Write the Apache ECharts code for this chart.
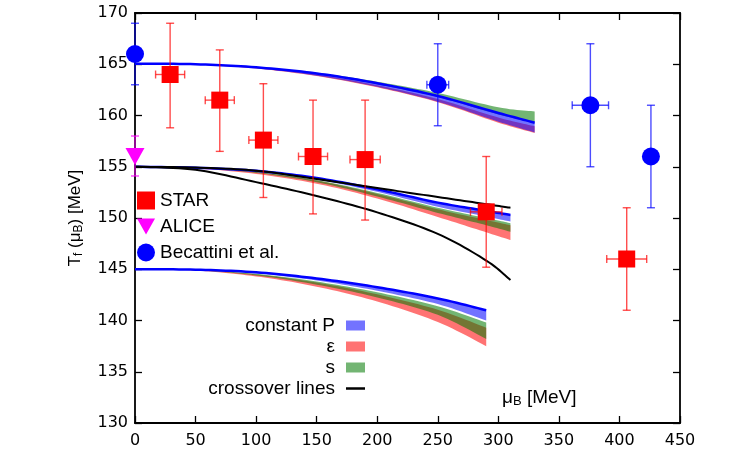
<!DOCTYPE html>
<html>
<head>
<meta charset="utf-8">
<script src="https://cdn.jsdelivr.net/npm/echarts@6/dist/echarts.min.js"></script>
<style>
  html, body { margin: 0; background: #fff; }
  #chart { width: 750px; height: 450px; }
</style>
</head>
<body>
<div id="chart"></div>
<script>
// axis ranges
var xMin = 0, xMax = 450, xStep = 50;
var yMin = 130, yMax = 170, yStep = 5;

// STAR freeze-out points
var starMu = [29, 70, 106, 147, 190, 290, 406];
var starT = [164.0, 161.5, 157.6, 156.0, 155.7, 150.6, 146.0];
var starMuErr = [12, 12, 12, 12, 12.5, 13, 16.5];
var starTLow = [158.8, 156.5, 152.0, 150.4, 149.8, 145.2, 141.0];
var starTHigh = [169.0, 166.4, 163.1, 161.5, 161.5, 156.0, 151.0];

// ALICE
var aliceMu = [0];
var aliceT = [156.0];
var aliceTLow = [154.1];
var aliceTHigh = [158.0];

// Becattini et al.
var becMu = [0, 250, 376, 426];
var becT = [166.0, 163.0, 161.0, 156.0];
var becMuErr = [0, 9, 15, 0];
var becTLow = [163.0, 159.0, 155.0, 151.0];
var becTHigh = [169.0, 167.0, 167.0, 161.0];

// upper family of curves (T0 = 165)
var muUp = [0, 50, 100, 150, 200, 250, 300, 330];
var upPHigh = [165.05, 165.0, 164.7, 164.1, 163.15, 161.9, 160.25, 159.3];
var upPLow = [165.05, 164.97, 164.6, 163.88, 162.8, 161.35, 159.4, 158.35];
var upSHigh = [165.05, 165.01, 164.74, 164.18, 163.3, 162.2, 160.8, 160.4];
var upSLow = [165.05, 164.99, 164.68, 164.05, 163.05, 161.8, 160.1, 159.3];
var upEHigh = [165.05, 164.99, 164.66, 164.0, 162.95, 161.6, 159.8, 158.95];
var upELow = [165.05, 164.97, 164.58, 163.85, 162.75, 161.3, 159.3, 158.3];

// middle family (T0 = 155)
var muMid = [0, 50, 100, 150, 200, 250, 290, 310];
var midPHigh = [155.0, 154.9, 154.6, 153.9, 152.8, 151.5, 150.7, 150.3];
var midPLow = [155.0, 154.88, 154.53, 153.75, 152.55, 151.1, 150.15, 149.65];
var midSHigh = [155.0, 154.88, 154.5, 153.7, 152.45, 151.0, 150.0, 149.5];
var midSLow = [155.0, 154.85, 154.4, 153.5, 152.1, 150.5, 149.3, 148.65];
var midEHigh = [155.0, 154.87, 154.48, 153.65, 152.35, 150.85, 149.8, 149.3];
var midELow = [155.0, 154.83, 154.3, 153.35, 151.9, 150.1, 148.6, 147.85];

// lower family (T0 = 145)
var muLow = [0, 50, 100, 150, 200, 250, 290];
var lowPHigh = [145.0, 144.96, 144.7, 144.1, 143.25, 142.15, 141.0];
var lowPLow = [145.0, 144.94, 144.6, 143.9, 142.9, 141.6, 140.0];
var lowSHigh = [145.0, 144.93, 144.55, 143.8, 142.75, 141.4, 139.8];
var lowSLow = [145.0, 144.9, 144.4, 143.5, 142.25, 140.55, 138.2];
var lowEHigh = [145.0, 144.92, 144.5, 143.7, 142.55, 141.05, 139.3];
var lowELow = [145.0, 144.88, 144.3, 143.3, 141.85, 139.85, 137.5];

// crossover lines
var muCross = [0, 50, 100, 150, 200, 250, 290, 310];
var crossA = [155.0, 154.92, 154.62, 153.8, 152.92, 152.05, 151.35, 151.0];
var crossB = [155.0, 154.7, 153.5, 152.15, 150.55, 148.45, 145.85, 143.95];

var colP = 'rgba(0,0,255,0.55)';
var colE = 'rgba(255,0,0,0.55)';
var colS = 'rgba(0,120,0,0.55)';
var txtFont = 'Liberation Sans';
var tickFont = 'DejaVu Sans';

// catmull-rom through pixel points, just for drawing smooth curves
function smoothPts(p) {
    var out = [p[0]];
    for (var i = 0; i < p.length - 1; i++) {
        var p0 = p[i - 1] || p[i], p1 = p[i], p2 = p[i + 1], p3 = p[i + 2] || p[i + 1];
        for (var s = 1; s <= 12; s++) {
            var t = s / 12, t2 = t * t, t3 = t2 * t;
            var pt = [0, 1].map(function (k) {
                return 0.5 * (2 * p1[k] + (-p0[k] + p2[k]) * t +
                    (2 * p0[k] - 5 * p1[k] + 4 * p2[k] - p3[k]) * t2 +
                    (-p0[k] + 3 * p1[k] - 3 * p2[k] + p3[k]) * t3);
            });
            out.push(pt);
        }
    }
    return out;
}

function band(name, mu, lo, hi, color, edgeColor) {
    return {
        name: name, type: 'custom', silent: true, z: 1,
        itemStyle: { color: color },
        encode: { x: 0, y: [1, 2] },
        data: mu.map(function (m, i) { return [m, lo[i], hi[i]]; }),
        renderItem: function (params, api) {
            if (params.dataIndex !== 0) return;
            var top = smoothPts(mu.map(function (m, i) { return api.coord([m, hi[i]]); }));
            var bot = smoothPts(mu.map(function (m, i) { return api.coord([m, lo[i]]); }));
            var kids = [{
                type: 'polygon',
                shape: { points: top.concat(bot.slice().reverse()) },
                style: { fill: color }
            }];
            if (edgeColor) {
                kids.push({ type: 'polyline', shape: { points: top }, style: { stroke: edgeColor, lineWidth: 2.5, fill: null } });
            }
            return { type: 'group', children: kids };
        }
    };
}

function crossLine(mu, t) {
    return {
        name: 'crossover lines', type: 'custom', silent: true, z: 2,
        encode: { x: 0, y: 1 },
        data: mu.map(function (m, i) { return [m, t[i]]; }),
        renderItem: function (params, api) {
            if (params.dataIndex !== 0) return;
            var pts = smoothPts(mu.map(function (m, i) { return api.coord([m, t[i]]); }));
            return { type: 'polyline', shape: { points: pts }, style: { stroke: '#000', lineWidth: 2, fill: null } };
        }
    };
}

function errorBars(mu, t, muErr, lo, hi, color) {
    return {
        type: 'custom', silent: true, clip: false, z: 3,
        encode: { x: 0, y: 1 },
        data: mu.map(function (m, i) { return [m, t[i], muErr ? muErr[i] : 0, lo[i], hi[i]]; }),
        renderItem: function (params, api) {
            var x = api.value(0), y = api.value(1), xe = api.value(2);
            var top = api.coord([x, api.value(4)]);
            var bot = api.coord([x, api.value(3)]);
            var st = { stroke: color, lineWidth: 1.4 };
            var cap = 4;
            var kids = [
                { type: 'line', shape: { x1: top[0], y1: top[1], x2: bot[0], y2: bot[1] }, style: st },
                { type: 'line', shape: { x1: top[0] - cap, y1: top[1], x2: top[0] + cap, y2: top[1] }, style: st },
                { type: 'line', shape: { x1: bot[0] - cap, y1: bot[1], x2: bot[0] + cap, y2: bot[1] }, style: st }
            ];
            if (xe > 0) {
                var l = api.coord([x - xe, y]), r = api.coord([x + xe, y]);
                kids.push({ type: 'line', shape: { x1: l[0], y1: l[1], x2: r[0], y2: r[1] }, style: st });
                kids.push({ type: 'line', shape: { x1: l[0], y1: l[1] - cap, x2: l[0], y2: l[1] + cap }, style: st });
                kids.push({ type: 'line', shape: { x1: r[0], y1: r[1] - cap, x2: r[0], y2: r[1] + cap }, style: st });
            }
            return { type: 'group', children: kids };
        }
    };
}

function points(name, mu, t, symbol, size, color, rotate) {
    return {
        name: name, type: 'scatter', clip: false, z: 4, silent: true,
        symbol: symbol, symbolSize: size, symbolRotate: rotate || 0,
        itemStyle: { color: color, opacity: 1 },
        data: mu.map(function (m, i) { return [m, t[i]]; })
    };
}

var series = [
    band('ε', muUp, upELow, upEHigh, colE),
    band('s', muUp, upSLow, upSHigh, colS),
    band('constant P', muUp, upPLow, upPHigh, colP, '#0000ff'),
    band('ε', muMid, midELow, midEHigh, colE),
    band('s', muMid, midSLow, midSHigh, colS),
    band('constant P', muMid, midPLow, midPHigh, colP, '#0000ff'),
    band('ε', muLow, lowELow, lowEHigh, colE),
    band('s', muLow, lowSLow, lowSHigh, colS),
    band('constant P', muLow, lowPLow, lowPHigh, colP, '#0000ff'),
    crossLine(muCross, crossA),
    crossLine(muCross, crossB),
    errorBars(starMu, starT, starMuErr, starTLow, starTHigh, 'rgba(255,0,0,0.7)'),
    errorBars(aliceMu, aliceT, null, aliceTLow, aliceTHigh, 'rgba(255,0,255,0.75)'),
    errorBars(becMu, becT, becMuErr, becTLow, becTHigh, 'rgba(0,0,255,0.7)'),
    points('STAR', starMu, starT, 'rect', 17, '#ff0000'),
    points('ALICE', aliceMu, aliceT, 'triangle', [19, 17], '#ff00ff', 180),
    points('Becattini et al.', becMu, becT, 'circle', 18, '#0000ff')
];

var axisLine = { show: true, onZero: false, lineStyle: { color: '#000', width: 1.8 } };
var axisTick = { show: true, inside: true, length: 7, lineStyle: { color: '#000', width: 1.3 } };
var legendText = { fontFamily: txtFont, fontSize: 19, color: '#000', lineHeight: 19 };

var option = {
    animation: false,
    backgroundColor: '#fff',
    grid: { left: 135, right: 70, top: 13, bottom: 27, containLabel: false },
    title: {
        text: 'μ{sub|B} [MeV]',
        left: 497, top: 382,
        textStyle: {
            fontFamily: txtFont, fontSize: 19, fontWeight: 'normal', color: '#000',
            rich: { sub: { fontFamily: txtFont, fontSize: 13, color: '#000', verticalAlign: 'bottom', padding: [8, 0, 0, 0] } }
        }
    },
    legend: [
        {
            data: [
                { name: 'STAR', icon: 'rect' },
                { name: 'ALICE', icon: 'path://M0,0 L20,0 L10,18 Z' },
                { name: 'Becattini et al.', icon: 'circle' }
            ],
            orient: 'vertical', left: 132, top: 186,
            itemWidth: 18, itemHeight: 18, itemGap: 7,
            selectedMode: false,
            textStyle: legendText
        },
        {
            data: [
                { name: 'constant P', icon: 'rect', itemStyle: { color: colP } },
                { name: 'ε', icon: 'rect', itemStyle: { color: colE } },
                { name: 's', icon: 'rect', itemStyle: { color: colS } }
            ],
            orient: 'vertical', align: 'right', right: 380, top: 311,
            itemWidth: 19, itemHeight: 10, itemGap: 2,
            selectedMode: false,
            textStyle: Object.assign({ padding: [0, 6, 0, 0] }, legendText)
        },
        {
            data: [{ name: 'crossover lines', icon: 'rect', itemStyle: { color: '#000' } }],
            orient: 'vertical', align: 'right', right: 380, top: 374,
            itemWidth: 19, itemHeight: 2.5,
            selectedMode: false,
            textStyle: Object.assign({ padding: [0, 6, 0, 0] }, legendText)
        }
    ],
    xAxis: [
        {
            type: 'value', position: 'bottom', min: xMin, max: xMax, interval: xStep,
            axisLine: axisLine, axisTick: axisTick, splitLine: { show: false },
            axisLabel: { fontFamily: tickFont, fontSize: 16, color: '#000', margin: 10 }
        },
        {
            type: 'value', position: 'top', min: xMin, max: xMax, interval: xStep,
            axisLine: axisLine, axisTick: axisTick, splitLine: { show: false },
            axisLabel: { show: false }
        }
    ],
    yAxis: [
        {
            type: 'value', position: 'left', min: yMin, max: yMax, interval: yStep,
            axisLine: axisLine, axisTick: axisTick, splitLine: { show: false },
            axisLabel: { fontFamily: tickFont, fontSize: 16, color: '#000', margin: 7 },
            name: 'T{sub|f} (μ{sub|B}) [MeV]',
            nameLocation: 'middle', nameGap: 50,
            nameTextStyle: {
                fontFamily: txtFont, fontSize: 17, color: '#000',
                rich: { sub: { fontFamily: txtFont, fontSize: 12, color: '#000', verticalAlign: 'bottom', padding: [7, 0, 0, 0] } }
            }
        },
        {
            type: 'value', position: 'right', min: yMin, max: yMax, interval: yStep,
            axisLine: axisLine, axisTick: axisTick, splitLine: { show: false },
            axisLabel: { show: false }
        }
    ],
    series: series
};

var myChart = echarts.init(document.getElementById('chart'));
myChart.setOption(option);
</script>
</body>
</html>
